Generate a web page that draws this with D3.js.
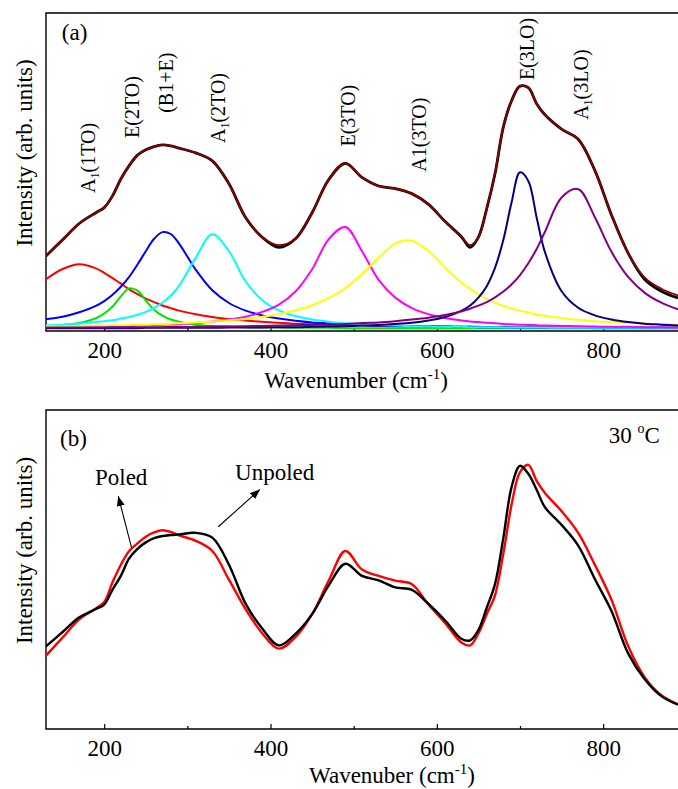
<!DOCTYPE html>
<html>
<head>
<meta charset="utf-8">
<script src="https://cdn.jsdelivr.net/npm/d3@7"></script>
<style>
body { margin: 0; background: #fff; }
text { font-family: "Liberation Serif", "Times New Roman", serif; fill: #000; }
</style>
</head>
<body>
<script>
// wavenumber grid (cm-1), shared by every series below
var wave = [130,150,170,190,200,210,220,230,240,250,260,270,280,290,310,330,350,370,390,410,430,450,470,490,510,530,550,570,590,610,630,640,650,660,670,680,690,700,710,720,730,750,770,790,810,830,850,870,890];

// panel (a): fitted components
var pA1_1TO = [16.3,19.5,21.0,19.7,18.3,16.6,14.9,13.1,11.6,10.2,9.1,8.0,7.2,6.4,5.3,4.4,3.7,3.3,2.9,2.6,2.3,2.1,2.0,1.8,1.7,1.6,1.5,1.5,1.4,1.4,1.3,1.3,1.3,1.2,1.2,1.2,1.2,1.2,1.2,1.2,1.1,1.1,1.1,1.1,1.1,1.0,1.0,1.0,1.0];
var pE_2TO = [1.5,1.9,2.5,4.0,5.5,7.7,10.9,13.4,12.7,9.6,6.7,4.8,3.6,2.9,2.0,1.6,1.4,1.2,1.1,1.1,1.0,1.0,1.0,0.9,0.9,0.9,0.9,0.9,0.9,0.9,0.9,0.9,0.9,0.9,0.9,0.9,0.9,0.9,0.9,0.9,0.9,0.9,0.9,0.8,0.8,0.8,0.8,0.8,0.8];
var pB1E = [3.7,4.5,5.9,7.9,9.4,11.4,13.9,17.0,20.9,25.1,29.0,31.1,30.5,27.5,19.3,12.8,8.8,6.4,4.9,3.9,3.2,2.7,2.4,2.1,1.9,1.7,1.6,1.5,1.4,1.4,1.3,1.3,1.2,1.2,1.2,1.2,1.1,1.1,1.1,1.1,1.1,1.1,1.0,1.0,1.0,1.0,1.0,1.0,1.0];
var pA1_2TO = [1.8,2.0,2.3,2.8,3.1,3.4,3.9,4.4,5.1,6.0,7.3,8.9,11.1,14.2,23.0,30.4,25.1,15.6,9.7,6.5,4.7,3.6,2.9,2.4,2.1,1.9,1.7,1.5,1.4,1.3,1.3,1.2,1.2,1.2,1.2,1.1,1.1,1.1,1.1,1.1,1.1,1.0,1.0,1.0,1.0,1.0,1.0,1.0,1.0];
var pE_3TO = [1.2,1.3,1.4,1.4,1.5,1.5,1.6,1.6,1.7,1.8,1.9,2.0,2.1,2.2,2.5,3.0,3.6,4.5,6.0,8.3,12.4,19.4,28.9,32.7,25.1,16.1,10.5,7.2,5.3,4.1,3.3,3.0,2.8,2.6,2.4,2.2,2.1,2.0,1.9,1.8,1.7,1.6,1.5,1.4,1.3,1.3,1.2,1.2,1.1];
var pA1_3TO = [1.5,1.5,1.6,1.7,1.7,1.8,1.8,1.9,2.0,2.0,2.1,2.2,2.3,2.4,2.7,3.0,3.4,3.8,4.5,5.3,6.5,8.1,10.4,13.5,17.9,23.0,27.5,28.4,25.1,19.9,15.1,13.2,11.5,10.1,8.9,7.9,7.1,6.4,5.8,5.2,4.8,4.1,3.5,3.1,2.8,2.5,2.3,2.1,2.0];
var pE_3LO = [0.9,0.9,0.9,0.9,0.9,0.9,0.9,0.9,0.9,1.0,1.0,1.0,1.0,1.0,1.0,1.0,1.1,1.1,1.1,1.2,1.2,1.3,1.4,1.5,1.7,1.9,2.2,2.6,3.3,4.4,6.4,8.0,10.5,14.1,19.9,28.7,40.6,49.9,47.2,35.7,24.8,12.5,7.3,4.9,3.6,2.8,2.3,2.0,1.7];
var pA1_3LO = [1.1,1.1,1.1,1.1,1.1,1.2,1.2,1.2,1.2,1.2,1.2,1.2,1.3,1.3,1.3,1.4,1.4,1.5,1.6,1.7,1.8,1.9,2.0,2.2,2.5,2.7,3.1,3.6,4.2,5.0,6.2,7.0,8.0,9.1,10.6,12.4,14.7,17.6,21.3,25.8,31.2,42.0,44.6,35.8,24.9,17.0,12.0,8.9,6.8];

// panel (a): measured spectrum and total fit
var measA = [23.6,28.7,33.8,37.2,38.8,42.5,47.8,52.0,55.3,57.0,58.0,58.5,58.2,57.5,56.0,53.5,46.3,35.7,29.5,26.3,29.0,37.2,47.6,52.7,48.3,45.6,44.8,43.2,39.8,34.4,29.5,26.3,29.5,38.5,49.5,64.2,72.5,77.0,76.5,71.5,68.0,63.5,60.3,50.5,36.5,24.5,16.2,12.5,10.4];
var fitA = [23.6,28.7,33.8,37.2,38.8,42.5,47.8,52.0,55.3,57.0,58.0,58.5,58.2,57.5,56.0,53.5,46.3,35.7,29.5,27.0,29.0,37.2,47.6,52.7,48.3,45.6,44.8,43.2,39.8,34.4,29.5,27.0,29.5,38.5,49.5,64.2,72.5,77.0,76.5,71.5,68.0,63.5,60.3,50.5,36.5,24.5,16.8,13.3,11.2];

// panel (b): poled / unpoled spectra at 30 C
var poled = [23.0,28.7,34.4,37.8,39.8,46.0,51.5,55.8,58.2,60.3,61.6,62.3,61.8,60.7,59.0,55.8,46.8,37.6,30.0,25.2,28.8,36.0,46.5,55.8,50.0,48.0,46.5,45.4,39.0,33.2,27.0,26.2,30.0,36.0,42.0,55.0,70.5,80.5,82.8,77.8,74.0,68.3,61.5,51.5,40.5,26.0,16.2,10.6,7.7];
var unpoled = [25.9,30.4,35.0,37.6,39.0,43.7,48.0,53.5,56.5,58.5,59.8,60.5,60.8,61.0,61.5,60.0,51.5,39.3,31.5,26.2,29.8,36.0,45.0,51.8,48.0,46.6,44.4,43.6,39.2,34.0,28.2,27.8,31.0,38.0,45.5,60.0,76.0,82.5,80.0,75.0,69.5,64.0,57.5,47.0,37.0,23.7,15.6,10.3,7.6];

var majorTicks = [200, 400, 600, 800];
var minorTicks = [300, 500, 700];

var W = 678, H = 789;
var svg = d3.select("body").append("svg").attr("width", W).attr("height", H);

var defs = svg.append("defs");
defs.append("marker").attr("id", "arrow")
    .attr("viewBox", "0 0 10 8").attr("refX", 10).attr("refY", 4)
    .attr("markerWidth", 10).attr("markerHeight", 8)
    .attr("markerUnits", "userSpaceOnUse").attr("orient", "auto")
  .append("path").attr("d", "M0,0L10,4L0,8z").attr("fill", "#000");

var x = d3.scaleLinear().domain([130, 890]).range([46, 678]);

function makePanel(top, bottom, id, titleText, titleX, titleY) {
  var y = d3.scaleLinear().domain([0, 100]).range([bottom, top]);
  var g = svg.append("g");

  defs.append("clipPath").attr("id", "clip" + id)
    .append("rect").attr("x", 46).attr("y", top).attr("width", W - 46).attr("height", bottom - top);

  // x axis, ticks pointing inward
  g.append("g").attr("transform", "translate(0," + bottom + ")")
    .call(d3.axisBottom(x).tickValues(majorTicks).tickSizeInner(-5).tickSizeOuter(0).tickPadding(11).tickFormat(d3.format("d")))
    .call(function(a) {
      a.select(".domain").remove();
      a.selectAll("line").attr("stroke", "#000").attr("stroke-width", 1.2);
      a.selectAll("text").attr("font-size", 23).attr("font-family", "Liberation Serif");
    });
  g.append("g").attr("transform", "translate(0," + bottom + ")")
    .call(d3.axisBottom(x).tickValues(minorTicks).tickSizeInner(-3).tickSizeOuter(0).tickFormat(""))
    .call(function(a) {
      a.select(".domain").remove();
      a.selectAll("line").attr("stroke", "#000").attr("stroke-width", 1.2);
    });

  // frame
  g.append("path")
    .attr("d", "M" + W + "," + top + "H46V" + bottom + "H" + W)
    .attr("fill", "none").attr("stroke", "#000").attr("stroke-width", 1.4);

  // axis titles
  var t = g.append("text").attr("x", titleX).attr("y", titleY)
    .attr("text-anchor", "middle").attr("font-size", 23);
  t.append("tspan").text(titleText + " (cm");
  t.append("tspan").attr("font-size", 15).attr("dy", -9).text("-1");
  t.append("tspan").attr("dy", 9).text(")");

  g.append("text")
    .attr("transform", "translate(32," + (top + bottom) / 2 + ") rotate(-90) translate(19,0)")
    .attr("text-anchor", "middle").attr("font-size", 23)
    .text("Intensity (arb. units)");

  var plot = g.append("g").attr("clip-path", "url(#clip" + id + ")");
  return { y: y, plot: plot, g: g };
}

function lineFor(y) {
  return d3.line()
    .x(function(d, i) { return x(wave[i]); })
    .y(function(d) { return y(d); })
    .curve(d3.curveCatmullRom.alpha(0.5));
}

// ---------- panel (a)
var pa = makePanel(13, 331, "a", "Wavenumber", 356, 388);
var la = lineFor(pa.y);

var comps = [
  { v: pA1_1TO, c: "#ff0000" },
  { v: pE_2TO, c: "#00e600" },
  { v: pB1E, c: "#0000ff" },
  { v: pA1_2TO, c: "#00ffff" },
  { v: pE_3TO, c: "#ff00ff" },
  { v: pA1_3TO, c: "#ffff00" },
  { v: pE_3LO, c: "#000080" },
  { v: pA1_3LO, c: "#800080" }
];
pa.plot.selectAll("path.comp").data(comps).enter().append("path")
  .attr("class", "comp")
  .attr("d", function(d) { return la(d.v); })
  .attr("fill", "none").attr("stroke", function(d) { return d.c; }).attr("stroke-width", 2);

pa.plot.append("path").attr("d", la(measA))
  .attr("fill", "none").attr("stroke", "#000").attr("stroke-width", 2.8);
pa.plot.append("path").attr("d", la(fitA))
  .attr("fill", "none").attr("stroke", "#8b0000").attr("stroke-width", 1.8);

pa.g.append("text").attr("x", x(149)).attr("y", pa.y(91.5)).attr("font-size", 23).text("(a)");

var peakLabels = [
  { a: "A", s: "1", b: "(1TO)", v: 180.5, i: 43.4 },
  { a: "E(2TO)", s: "", b: "", v: 233, i: 60.7 },
  { a: "(B1+E)", s: "", b: "", v: 274, i: 68.6 },
  { a: "A", s: "1", b: "(2TO)", v: 336.8, i: 59.1 },
  { a: "E(3TO)", s: "", b: "", v: 493.5, i: 58.0 },
  { a: "A1(3TO)", s: "", b: "", v: 578.5, i: 50.1 },
  { a: "E(3LO)", s: "", b: "", v: 708.8, i: 78.9 },
  { a: "A", s: "1", b: "(3LO)", v: 773, i: 66.4 }
];
peakLabels.forEach(function(p) {
  var t = pa.g.append("text")
    .attr("transform", "translate(" + x(p.v) + "," + pa.y(p.i) + ") rotate(-90)")
    .attr("dy", "0.35em").attr("font-size", 20);
  t.append("tspan").text(p.a);
  if (p.s) {
    t.append("tspan").attr("font-size", 12).attr("dy", 4).text(p.s);
    t.append("tspan").attr("dy", -4).text(p.b);
  }
});

// ---------- panel (b)
var pb = makePanel(410, 729, "b", "Wavenuber", 392, 783);
var lb = lineFor(pb.y);

pb.plot.append("path").attr("d", lb(poled))
  .attr("fill", "none").attr("stroke", "#ff0000").attr("stroke-width", 2.4);
pb.plot.append("path").attr("d", lb(unpoled))
  .attr("fill", "none").attr("stroke", "#000").attr("stroke-width", 2.4);

pb.g.append("text").attr("x", x(146.8)).attr("y", pb.y(88.7)).attr("font-size", 23).text("(b)");

var tc = pb.g.append("text").attr("x", x(868.3)).attr("y", pb.y(89.7))
  .attr("text-anchor", "end").attr("font-size", 23);
tc.append("tspan").text("30 ");
tc.append("tspan").attr("font-size", 14).attr("dy", -10).text("o");
tc.append("tspan").attr("dy", 10).text("C");

pb.g.append("text").attr("x", x(188.9)).attr("y", pb.y(76.5)).attr("font-size", 23).text("Poled");
pb.g.append("text").attr("x", x(357.3)).attr("y", pb.y(78.1)).attr("font-size", 23).text("Unpoled");

var arrows = [
  { x1: 233.1, y1: 56.6, x2: 216.9, y2: 73.0 },
  { x1: 337.2, y1: 63.4, x2: 387.3, y2: 75.1 }
];
pb.g.selectAll("line.arr").data(arrows).enter().append("line")
  .attr("class", "arr")
  .attr("x1", function(d) { return x(d.x1); }).attr("y1", function(d) { return pb.y(d.y1); })
  .attr("x2", function(d) { return x(d.x2); }).attr("y2", function(d) { return pb.y(d.y2); })
  .attr("stroke", "#000").attr("stroke-width", 1.1).attr("marker-end", "url(#arrow)");
</script>
</body>
</html>
